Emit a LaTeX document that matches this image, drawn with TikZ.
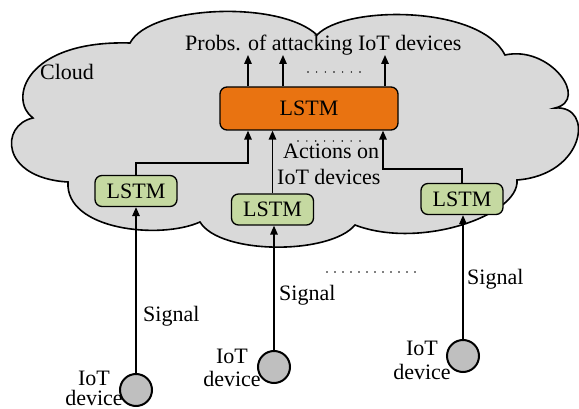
\documentclass[tikz,border=0pt]{standalone}
\usepackage{fontspec}
\setmainfont{Liberation Serif}
\usetikzlibrary{arrows.meta}
\definecolor{cloudgray}{HTML}{D9D9D9}
\definecolor{lstmorange}{HTML}{E97311}
\definecolor{lstmgreen}{HTML}{C5D9A1}
\definecolor{devgray}{HTML}{BFBFBF}
\begin{document}
\begin{tikzpicture}[x=1pt,y=-1pt,
  font=\fontsize{22}{26}\selectfont,
  lstmbox/.style={draw, line width=1.3pt, rounded corners=7pt, inner sep=0pt},
  greenbox/.style={lstmbox, fill=lstmgreen, minimum width=82pt, minimum height=31pt},
  device/.style={circle, draw, line width=2pt, fill=devgray, minimum size=32pt, inner sep=0pt},
  arr/.style={-{Triangle[length=9pt,width=7.5pt]}, line width=1.5pt},
  lbl/.style={anchor=base west, inner sep=0pt},
  dlbl/.style={anchor=base, inner sep=0pt},
  dotmark/.style={fill=black}]
\useasboundingbox (0,0) rectangle (579,409);
% cloud
\draw[fill=cloudgray, line width=1.6pt, line join=miter]
  (33,118) .. controls (8,100) and (25,40) .. (130,43)
  .. controls (150,5) and (280,0) .. (317,35)
  .. controls (345,5) and (480,5) .. (505,55)
  .. controls (550,45) and (590,100) .. (555,108)
  .. controls (595,105) and (585,175) .. (517,180)
  .. controls (520,215) and (420,250) .. (355,225)
  .. controls (330,255) and (220,255) .. (200,222)
  .. controls (160,240) and (65,230) .. (68,182)
  .. controls (0,178) and (0,125) .. cycle;
\node[lbl] (cloudlbl) at (40,80) {Cloud};
\node[lbl] (probs) at (185,51) {Probs. of attacking IoT devices};
\node[lbl] (act1) at (283,159) {Actions on};
\node[lbl] (act2) at (277,185) {IoT devices};
% LSTMs
\node[lstmbox, fill=lstmorange, minimum width=178pt, minimum height=43pt] (orange) at (309,108.5) {LSTM};
\node[greenbox] (gl) at (136,191) {LSTM};
\node[greenbox] (gm) at (272.5,209.5) {LSTM};
\node[greenbox] (gr) at (462,199) {LSTM};
% devices
\node[device] (d1) at (136,390) {};
\node[device] (d2) at (274,367) {};
\node[device] (d3) at (463,356) {};
\node[dlbl] (d1a) at (94,385) {IoT};
\node[dlbl] (d1b) at (94,405.5) {device};
\node[dlbl] (d2a) at (232,363) {IoT};
\node[dlbl] (d2b) at (232,386) {device};
\node[dlbl] (d3a) at (422,355) {IoT};
\node[dlbl] (d3b) at (422,379) {device};
% outputs
\coordinate (o1) at (248,55);
\coordinate (o2) at (283,55);
\coordinate (o3) at (385,55);
\draw[arr] (o1 |- orange.north) -- (o1);
\draw[arr] (o2 |- orange.north) -- (o2);
\draw[arr] (o3 |- orange.north) -- (o3);
% inputs
\coordinate (jl) at (248,163);
\coordinate (jr) at (383,169);
\draw[arr] (gl.north) |- (jl) -- (jl |- orange.south);
\draw[arr] (gm.north) -- (gm.north |- orange.south);
\draw[arr] (gr.north) |- (jr) -- (jr |- orange.south);
% signals
\draw[arr] (d1.north) -- (gl.south);
\draw[arr] (d2.north) -- (d2.north |- gm.south);
\draw[arr] (d3.north) -- (d3.north |- gr.south);
\node[lbl] (s1) at (143,321) {Signal};
\node[lbl] (s2) at (279,300) {Signal};
\node[lbl] (s3) at (467,284) {Signal};
% dots
\foreach \i in {0,...,6} \fill[dotmark] ({308+\i*8.667},72) circle (0.8pt);
\foreach \i in {0,...,7} \fill[dotmark] ({298+\i*8.857},141) circle (0.8pt);
\foreach \i in {0,...,11} \fill[dotmark] ({327+\i*8},272) circle (0.8pt);
\end{tikzpicture}
\end{document}
